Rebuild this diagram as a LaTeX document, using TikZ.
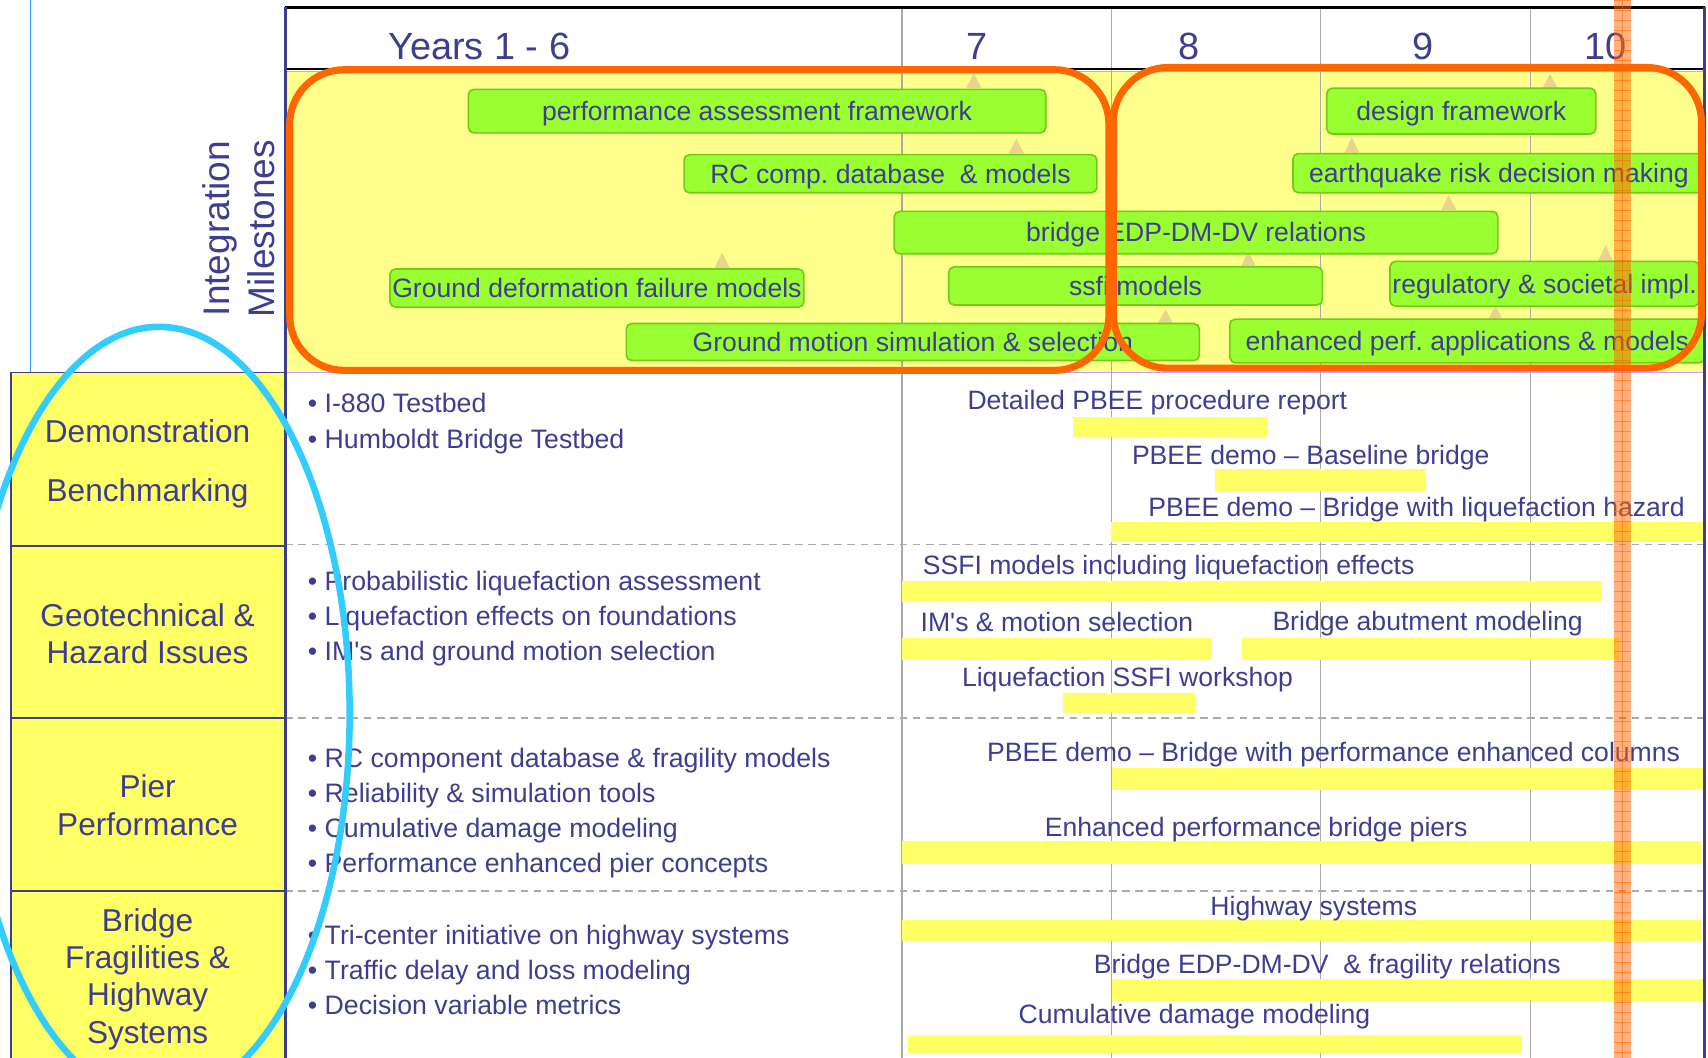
\documentclass[tikz,border=0pt]{standalone}
\usepackage{fontspec}
\setmainfont{Liberation Sans}
\newfontfamily\qsfont{Liberation Sans}
\newcommand{\sq}{{\qsfont '}}
\definecolor{navy}{RGB}{62,62,145}
\definecolor{lime}{RGB}{153,255,51}
\definecolor{limeedge}{RGB}{110,205,20}
\definecolor{paleyel}{RGB}{255,255,140}
\definecolor{barye}{RGB}{255,255,102}
\definecolor{gridgray}{RGB}{170,170,170}
\definecolor{orng}{RGB}{255,102,0}
\definecolor{cyanring}{RGB}{51,204,255}
\definecolor{lav}{RGB}{200,160,255}
\definecolor{tanc}{RGB}{232,212,140}
\definecolor{thinblue}{RGB}{51,153,255}
\tikzset{
 ms/.style={draw=limeedge, line width=1.5pt, fill=lime, rounded corners=5pt, inner sep=0pt,
   text height=21pt, text depth=4pt, font=\fontsize{24.4}{28}\selectfont, text=navy},
 bar/.style={fill=barye, draw=none},
 lbl/.style={anchor=base west, inner sep=0pt, font=\fontsize{24.4}{28}\selectfont, text=navy},
 bul/.style={anchor=base west, inner sep=0pt, font=\fontsize{24.5}{28}\selectfont, text=navy},
 cat/.style={anchor=base, inner sep=0pt, font=\fontsize{29}{35}\selectfont, text=navy},
 catbox/.style={fill=barye, draw=navy, line width=1.5pt},
 yr/.style={anchor=base, inner sep=0pt, font=\fontsize{34.8}{40}\selectfont, text=navy},
 tri/.style={fill=tanc, draw=none},
 gridline/.style={draw=gridgray, line width=1.2pt},
 dashline/.style={draw=gridgray, line width=1.5pt, dash pattern=on 7pt off 5pt},
 ring/.style={draw=orng, line width=6.5pt, rounded corners=50pt},
}
\begin{document}
\begin{tikzpicture}[x=1pt,y=-1pt]
\useasboundingbox (0,0) rectangle (1568,971);
\clip (0,0) rectangle (1568,971);
\fill[white] (0,0) rectangle (1568,971);

% milestone band
\fill[paleyel] (262,65) rectangle (1565,342);
\draw[lav, line width=1.2pt] (262,65.5) -- (1565,65.5);
\draw[lav, line width=1.2pt] (262,342) -- (1565,342);

% vertical grid lines
\foreach \gx in {828,1020.5,1212.5,1405} \draw[gridline] (\gx,7) -- (\gx,975);

% dashed row separators
\foreach \gy in {500,659,818} \draw[dashline] (262,\gy) -- (1565,\gy);

% thin blue line
\draw[thinblue, line width=1.5pt] (28,0) -- (28,342);

% triangles
\foreach \tx/\ta/\tb in {894/67/81, 933/127/141, 663/232/246, 1070/284/297, 1423/68/81,
  1241/126/141, 1330/179/193, 1146/230/245, 1474/225/240, 1373/280/294}
  \fill[tri] (\tx,\ta) -- (\tx+7,\tb) -- (\tx-7,\tb) -- cycle;

% milestone boxes
\node[ms, minimum width=530pt, minimum height=40pt] (m1) at (695,102) {performance assessment framework};
\node[ms, minimum width=379pt, minimum height=35pt] (m2) at (817.5,159.5) {RC comp.\ database\ \ \& models};
\node[ms, minimum width=554pt, minimum height=39pt] (m3) at (1098,213.5) {bridge EDP-DM-DV relations};
\node[ms, minimum width=380pt, minimum height=35pt] (m4) at (548,264.5) {Ground deformation failure models};
\node[ms, minimum width=343pt, minimum height=35pt] (m5) at (1042.5,262.5) {ssfi models};
\node[ms, minimum width=526pt, minimum height=34pt] (m6) at (838,314) {Ground motion simulation \& selection};
\node[ms, minimum width=247pt, minimum height=42pt] (m7) at (1341.5,102) {design framework};
\node[ms, minimum width=378pt, minimum height=36pt] (m8) at (1376,159) {earthquake risk decision making};
\node[ms, minimum width=284pt, minimum height=41pt] (m9) at (1418,260.5) {regulatory \& societal impl.};
\node[ms, minimum width=436pt, minimum height=40pt] (m10) at (1347,313) {enhanced perf.\ applications \& models};

% activity bars
\fill[bar] (985,383) rectangle (1164,401);
\fill[bar] (1115,431) rectangle (1309,451);
\fill[bar] (1020,479) rectangle (1565,498);
\fill[bar] (828,533) rectangle (1471,553);
\fill[bar] (828,586) rectangle (1112,606);
\fill[bar] (1140,586) rectangle (1486,606);
\fill[bar] (976,636) rectangle (1097,655);
\fill[bar] (1021,705) rectangle (1564,725);
\fill[bar] (828,772) rectangle (1562,793);
\fill[bar] (828,845) rectangle (1562,864);
\fill[bar] (1021,899) rectangle (1565,919);
\fill[bar] (834,950) rectangle (1396,967);

% activity labels
\node[lbl] (a1) at (888,375.5) {Detailed PBEE procedure report};
\node[lbl] (a2) at (1039,426) {PBEE demo – Baseline bridge};
\node[lbl] (a3) at (1054,474) {PBEE demo – Bridge with liquefaction hazard};
\node[lbl] (a4) at (847,527) {SSFI models including liquefaction effects};
\node[lbl] (a5) at (845,580) {IM\sq s \& motion selection};
\node[lbl] (a6) at (1168,579) {Bridge abutment modeling};
\node[lbl] (a7) at (883,630) {Liquefaction SSFI workshop};
\node[lbl] (a8) at (906,699) {PBEE demo – Bridge with performance enhanced columns};
\node[lbl] (a9) at (959,767.5) {Enhanced performance bridge piers};
\node[lbl] (a10) at (1111,840) {Highway systems};
\node[lbl] (a11) at (1004,894) {Bridge EDP-DM-DV\ \ \& fragility relations};
\node[lbl] (a12) at (935,940) {Cumulative damage modeling};

% bullets
\node[bul] (b1) at (282.5,379) {• I-880 Testbed};
\node[bul] (b2) at (282.5,412) {• Humboldt Bridge Testbed};
\node[bul] (b3) at (282.5,542) {• Probabilistic liquefaction assessment};
\node[bul] (b4) at (282.5,574.3) {• Liquefaction effects on foundations};
\node[bul] (b5) at (282.5,606.5) {• IM\sq s and ground motion selection};
\node[bul] (b6) at (282.5,704.7) {• RC component database \& fragility models};
\node[bul] (b7) at (282.5,737) {• Reliability \& simulation tools};
\node[bul] (b8) at (282.5,769) {• Cumulative damage modeling};
\node[bul] (b9) at (282.5,801) {• Performance enhanced pier concepts};
\node[bul] (b10) at (282.5,866.8) {• Tri-center initiative on highway systems};
\node[bul] (b11) at (282.5,898.8) {• Traffic delay and loss modeling};
\node[bul] (b12) at (282.5,931) {• Decision variable metrics};

% left category column
\draw[catbox] (10,342) rectangle (262,501);
\draw[catbox] (10,501) rectangle (262,659);
\draw[catbox] (10,659) rectangle (262,818);
\draw[catbox] (10,818) rectangle (262,990);
\node[cat] (c1a) at (135.5,406) {Demonstration};
\node[cat] (c1b) at (135.5,460.5) {Benchmarking};
\node[cat] (c2a) at (135.5,574.7) {Geotechnical \&};
\node[cat] (c2b) at (135.5,608.8) {Hazard Issues};
\node[cat] (c3a) at (135.5,732) {Pier};
\node[cat] (c3b) at (135.5,766.6) {Performance};
\node[cat] (c4a) at (135.5,854.7) {Bridge};
\node[cat] (c4b) at (135.5,889) {Fragilities \&};
\node[cat] (c4c) at (135.5,923.5) {Highway};
\node[cat] (c4d) at (135.5,957.7) {Systems};

% header
\node[yr] (y16) at (440,54.5) {Years 1 - 6};
\node[yr] (y7) at (897,54.5) {7};
\node[yr] (y8) at (1092,54.5) {8};
\node[yr] (y9) at (1306,54.5) {9};
\node[yr] (y10) at (1474,54.5) {10};
\node[rotate=90, align=center, inner sep=0pt, font=\fontsize{34}{41}\selectfont, text=navy] (im) at (219,210) {Integration\\Milestones};

% table borders
\draw[black, line width=2.5pt] (262,7) -- (1565,7);
\draw[black, line width=2pt] (262,63) -- (1565,63);
\draw[navy, line width=3pt] (262,6) -- (262,975);
\draw[navy, line width=2.5pt] (1565,6) -- (1565,975);

% orange rounded frames
\draw[ring] (266,64) rectangle (1018,340);
\draw[ring] (1022,62) rectangle (1562,338);

% cyan ellipse
\draw[cyanring, line width=6pt] (146,655) ellipse [x radius=175, y radius=355];

% orange marker band
\fill[orng, opacity=0.5] (1482,0) rectangle (1497,971);
\foreach \hy in {0,9.2,...,971} \draw[orng, opacity=0.55, line width=0.7pt] (1482,\hy) -- (1497,\hy);
\draw[orng, opacity=0.55, line width=0.7pt] (1489.5,0) -- (1489.5,971);
\end{tikzpicture}
\end{document}
